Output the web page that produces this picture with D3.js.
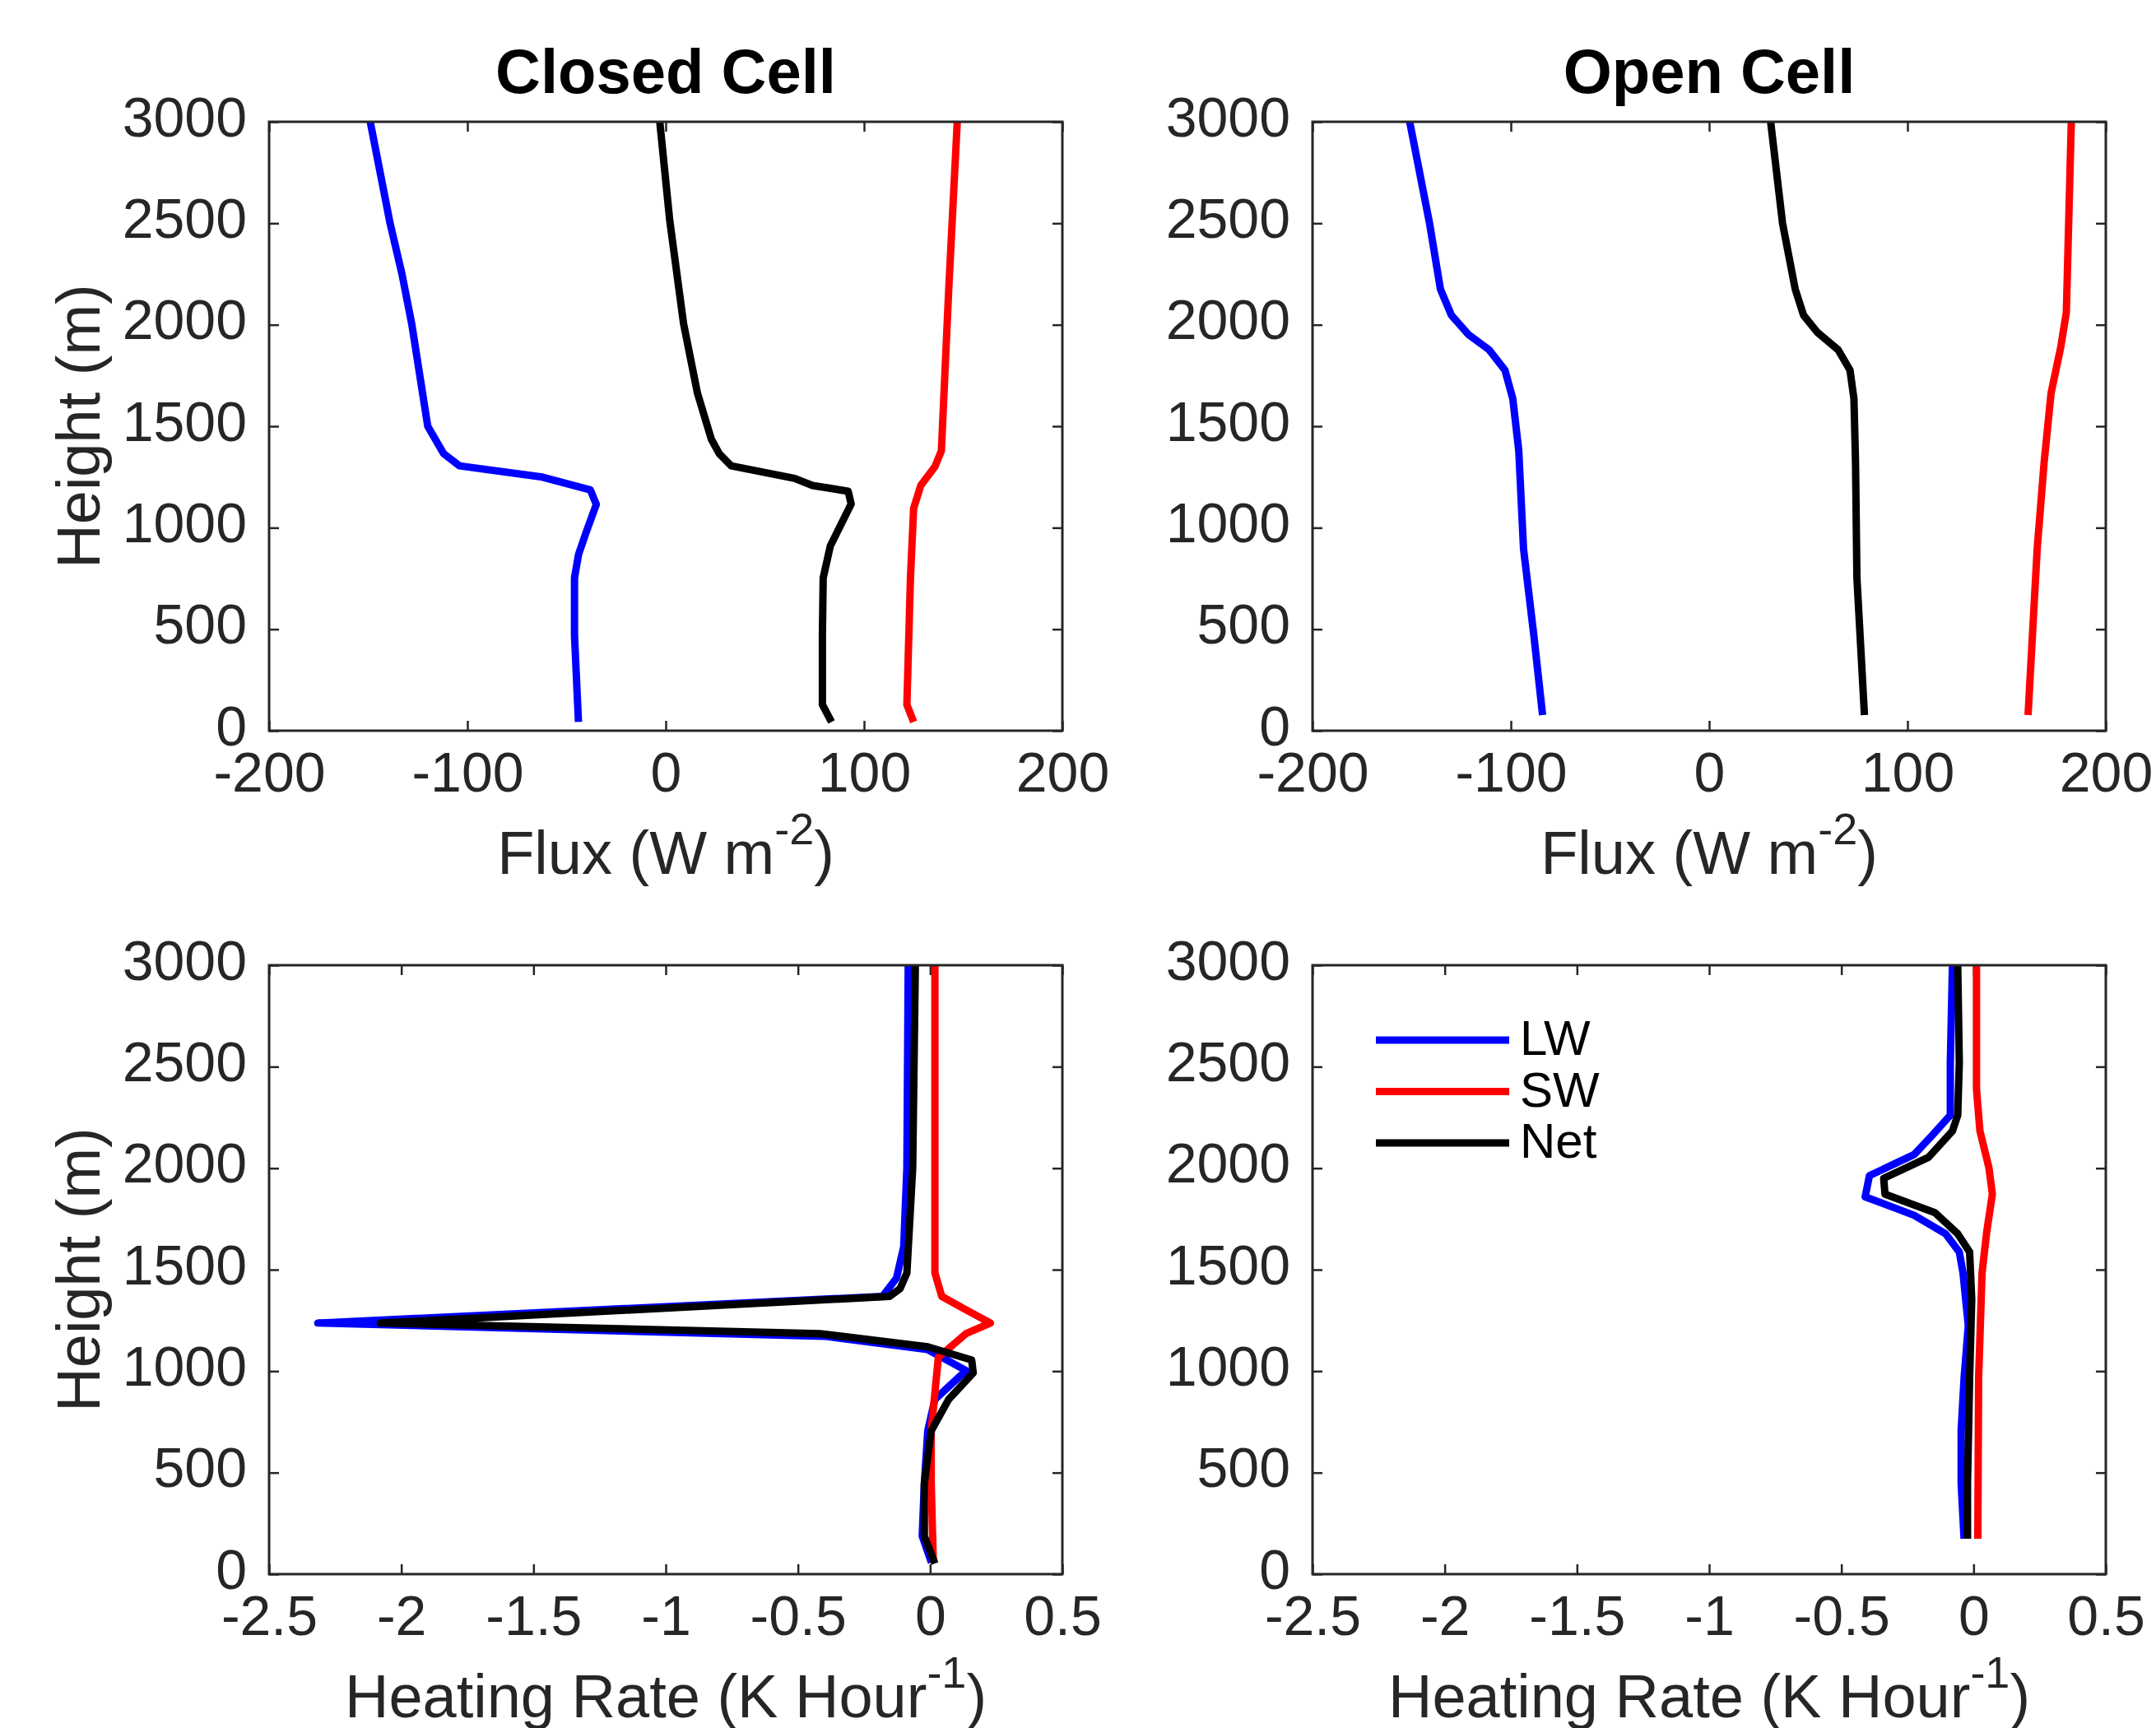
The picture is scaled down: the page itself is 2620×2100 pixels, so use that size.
<!DOCTYPE html>
<html>
<head>
<meta charset="utf-8">
<script src="https://d3js.org/d3.v7.min.js"></script>
<style>
  body { margin: 0; background: #fff; }
  svg { font-family: "Liberation Sans", Arial, Helvetica, sans-serif; }
</style>
</head>
<body>
<div id="chart"></div>
<script>
// values, [value, height m], from the top down
const closedFluxLW = [[-149,3000],[-144,2750],[-139,2500],[-133,2250],[-128,2000],[-124,1750],[-120,1500],[-112,1365],[-104,1305],[-63,1251],[-38,1186],[-35,1115],[-40,981],[-44,867],[-46,753],[-46,469],[-44,43]];
const closedFluxSW = [[147,3000],[142.7,2175],[139,1379],[135.7,1300],[128.6,1208],[125,1095],[123.4,753],[121.6,128],[125,43]];
const closedFluxNet = [[-3,3000],[2,2516],[9,2005],[16,1663],[23,1436],[27,1365],[33,1305],[65,1243],[74,1208],[92,1180],[93.5,1117],[83,910],[79.4,753],[79,469],[79,128],[83.6,43]];

const openFluxLW = [[-151,3000],[-141,2500],[-135.5,2175],[-130,2047],[-121.5,1953],[-111,1877],[-103,1777],[-99,1635],[-96,1379],[-93.6,896],[-88.4,469],[-84,77]];
const openFluxSW = [[182.6,3000],[180.1,2061],[177.3,1891],[172.4,1663],[168.9,1322],[165.4,896],[160.8,77]];
const openFluxNet = [[31,3000],[37,2500],[43.4,2175],[47.6,2047],[54.6,1962],[65,1877],[71,1777],[73,1635],[73.8,1322],[74.5,753],[78.3,77]];

const closedHrLW = [[-0.083,3000],[-0.088,2002],[-0.10,1613],[-0.127,1459],[-0.18,1368],[-2.316,1237],[-0.40,1172],[-0.01,1107],[0.136,1003],[0.018,861],[-0.009,706],[-0.022,446],[-0.03,187],[0.005,57]];
const closedHrSW = [[0.018,3000],[0.018,1484],[0.044,1368],[0.136,1302],[0.228,1237],[0.136,1185],[0.031,1068],[0.004,706],[0.004,446],[0.012,57]];
const closedHrNet = [[-0.056,3000],[-0.066,2002],[-0.088,1484],[-0.114,1406],[-0.154,1368],[-2.08,1237],[-0.417,1185],[-0.009,1120],[0.157,1055],[0.163,991],[0.07,861],[0.004,706],[-0.022,446],[-0.022,187],[0.018,52]];

const openHrLW = [[-0.08,3000],[-0.088,2520],[-0.088,2261],[-0.106,2235],[-0.16,2157],[-0.225,2067],[-0.394,1963],[-0.41,1859],[-0.225,1768],[-0.106,1677],[-0.054,1587],[-0.04,1484],[-0.02,1224],[-0.036,965],[-0.047,706],[-0.047,446],[-0.036,174]];
const openHrSW = [[0.011,3000],[0.011,2390],[0.024,2183],[0.058,2002],[0.071,1872],[0.05,1690],[0.032,1484],[0.019,965],[0.016,174]];
const openHrNet = [[-0.06,3000],[-0.054,2520],[-0.06,2261],[-0.08,2183],[-0.17,2054],[-0.34,1950],[-0.335,1872],[-0.146,1781],[-0.06,1677],[-0.015,1587],[-0.007,1354],[-0.015,965],[-0.023,446],[-0.023,174]];

const heightTicks = [0, 500, 1000, 1500, 2000, 2500, 3000];
const fluxTicks = [-200, -100, 0, 100, 200];
const hrTicks = [-2.5, -2, -1.5, -1, -0.5, 0, 0.5];
const seriesNames = ['LW', 'SW', 'Net'];
const seriesColors = ['#0000ff', '#ff0000', '#000000'];

const width = 2620;
const height = 2100;
const axisColor = '#262626';

const svg = d3.select('#chart').append('svg')
  .attr('width', width)
  .attr('height', height);

const panels = [
  { x: 327, y: 148, title: 'Closed Cell', domain: [-200, 200], ticks: fluxTicks,
    label: ['Flux (W m', '-2', ')'], ylabel: true, series: [closedFluxLW, closedFluxSW, closedFluxNet] },
  { x: 1595, y: 148, title: 'Open Cell', domain: [-200, 200], ticks: fluxTicks,
    label: ['Flux (W m', '-2', ')'], ylabel: false, series: [openFluxLW, openFluxSW, openFluxNet] },
  { x: 327, y: 1173, title: null, domain: [-2.5, 0.5], ticks: hrTicks,
    label: ['Heating Rate (K Hour', '-1', ')'], ylabel: true, series: [closedHrLW, closedHrSW, closedHrNet] },
  { x: 1595, y: 1173, title: null, domain: [-2.5, 0.5], ticks: hrTicks,
    label: ['Heating Rate (K Hour', '-1', ')'], ylabel: false, series: [openHrLW, openHrSW, openHrNet], legend: true }
];

const pw = 964;
const ph = 740;
const tickLen = 12;
const fmt = d => String(d);

panels.forEach(p => {
  const g = svg.append('g').attr('transform', `translate(${p.x},${p.y})`);

  const x = d3.scaleLinear().domain(p.domain).range([0, pw]);
  const y = d3.scaleLinear().domain([0, 3000]).range([ph, 0]);

  const line = d3.line()
    .x(d => x(d[0]))
    .y(d => y(d[1]));

  // inward ticks on all four sides (matlab box on)
  g.append('g').attr('transform', `translate(0,${ph})`)
    .call(d3.axisBottom(x).tickValues(p.ticks).tickFormat(fmt).tickSize(-tickLen).tickSizeOuter(0).tickPadding(26));
  const left = g.append('g')
    .call(d3.axisLeft(y).tickValues(heightTicks).tickFormat(fmt).tickSize(-tickLen).tickSizeOuter(0).tickPadding(27));
  g.append('g')
    .call(d3.axisTop(x).tickValues(p.ticks).tickFormat('').tickSize(-tickLen).tickSizeOuter(0));
  g.append('g').attr('transform', `translate(${pw},0)`)
    .call(d3.axisRight(y).tickValues(heightTicks).tickFormat('').tickSize(-tickLen).tickSizeOuter(0));

  g.selectAll('.domain').remove();
  g.selectAll('.tick line').attr('stroke', axisColor).attr('stroke-width', 2.5);
  g.selectAll('.tick text')
    .attr('fill', axisColor)
    .style('font-size', '68px')
    .style('font-family', '"Liberation Sans", Arial, sans-serif');
  left.selectAll('.tick text').attr('dy', '0.25em');

  p.series.forEach((s, i) => {
    g.append('path')
      .datum(s)
      .attr('fill', 'none')
      .attr('stroke', seriesColors[i])
      .attr('stroke-width', 9)
      .attr('stroke-linejoin', 'round')
      .attr('d', line);
  });

  g.append('rect')
    .attr('width', pw)
    .attr('height', ph)
    .attr('fill', 'none')
    .attr('stroke', axisColor)
    .attr('stroke-width', 3);

  if (p.title) {
    g.append('text')
      .attr('x', pw / 2)
      .attr('y', -35)
      .attr('text-anchor', 'middle')
      .attr('font-weight', 'bold')
      .attr('font-size', 76)
      .attr('fill', '#000')
      .text(p.title);
  }

  const xl = g.append('text')
    .attr('x', pw / 2)
    .attr('y', ph + 174)
    .attr('text-anchor', 'middle')
    .attr('font-size', 74)
    .attr('fill', axisColor);
  xl.append('tspan').text(p.label[0]);
  xl.append('tspan').attr('dy', -36).attr('font-size', 54).text(p.label[1]);
  xl.append('tspan').attr('dy', 36).text(p.label[2]);

  if (p.ylabel) {
    g.append('text')
      .attr('transform', `translate(${121 - p.x},${ph / 2}) rotate(-90)`)
      .attr('text-anchor', 'middle')
      .attr('font-size', 74)
      .attr('fill', axisColor)
      .text('Height (m)');
  }

  if (p.legend) {
    const lg = g.append('g').attr('transform', `translate(${1672 - p.x},${1264 - p.y})`);
    seriesNames.forEach((name, i) => {
      const row = lg.append('g').attr('transform', `translate(0,${i * 62.5})`);
      row.append('line')
        .attr('x1', 0).attr('x2', 162)
        .attr('stroke', seriesColors[i])
        .attr('stroke-width', 9);
      row.append('text')
        .attr('x', 175)
        .attr('dy', '0.3em')
        .attr('font-size', 60)
        .attr('fill', '#000')
        .text(name);
    });
  }
});
</script>
</body>
</html>
